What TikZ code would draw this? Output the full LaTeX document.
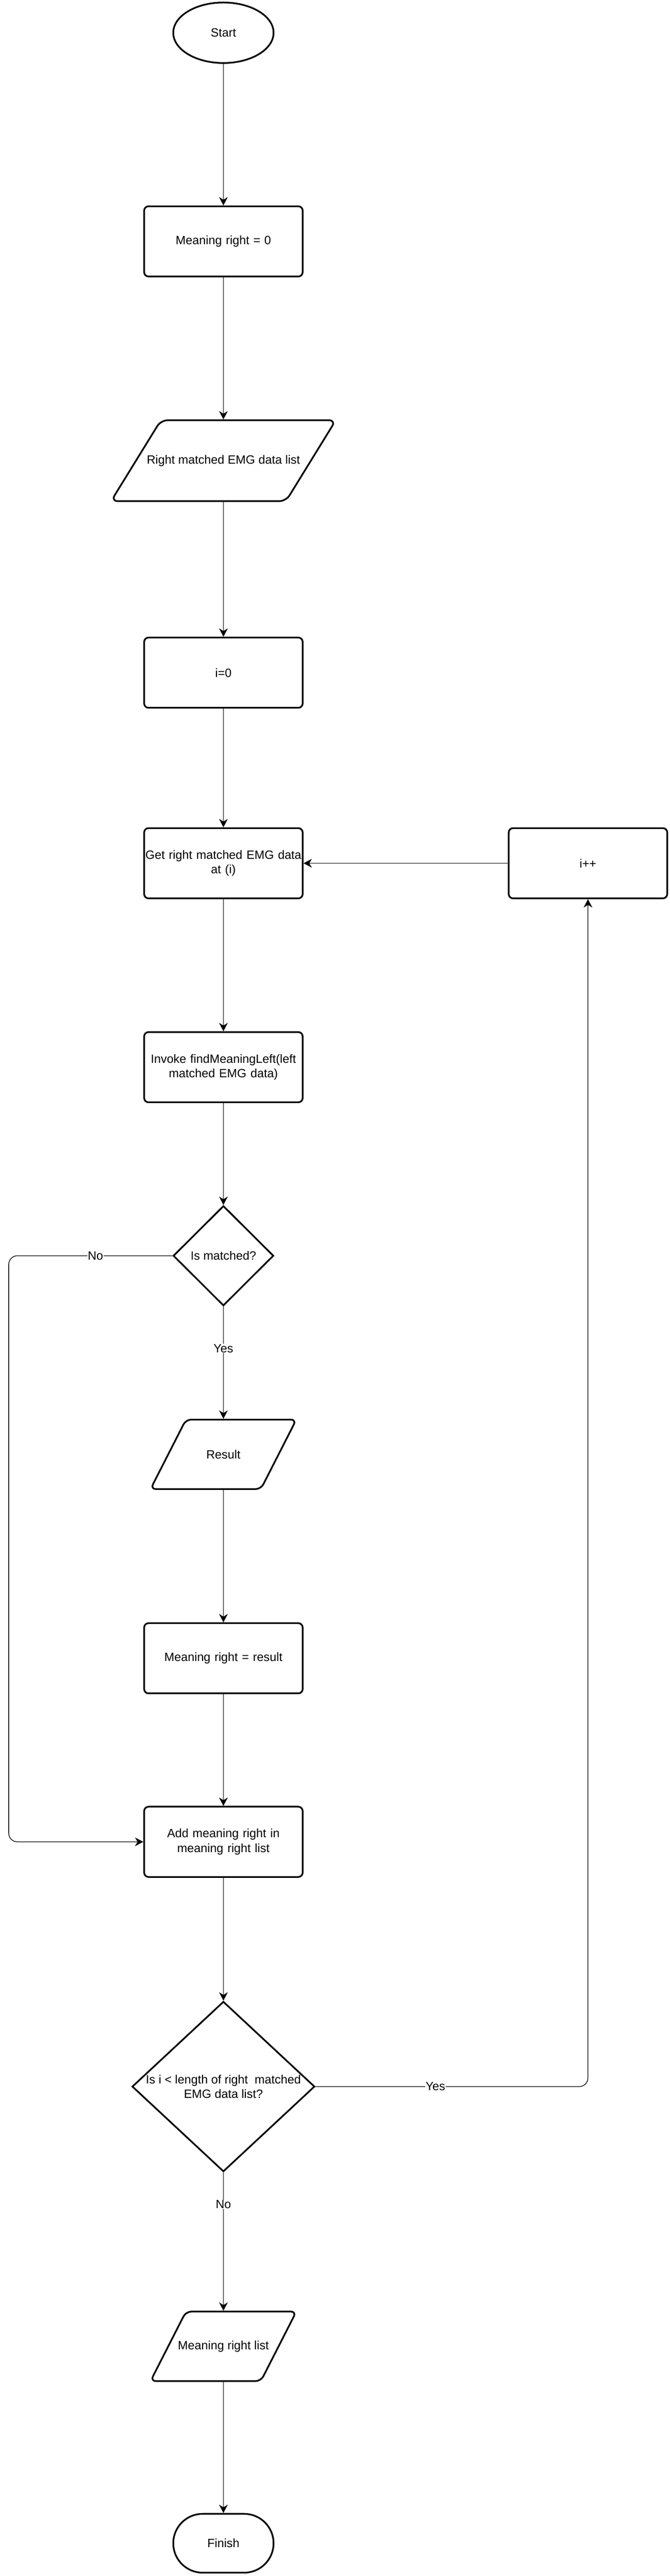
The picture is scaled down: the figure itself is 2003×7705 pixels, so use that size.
\documentclass[tikz,border=0pt]{standalone}
\usepackage{fontspec}
\setmainfont{Liberation Sans}
\usetikzlibrary{shapes.geometric,shapes.misc,arrows.meta}
\begin{document}
\begin{tikzpicture}[x=1pt,y=-1pt,
  txt/.style={font=\fontsize{36}{44}\selectfont, text=black},
  shp/.style={draw=black, line width=5pt},
  procbox/.style={shp, txt, rectangle, rounded corners=13pt, minimum width=474pt, minimum height=210pt, inner sep=0pt, align=center, text width=472pt},
  iobox/.style={txt, rectangle, inner sep=0pt, outer sep=0pt, align=center},
  termin/.style={shp, txt, ellipse, minimum width=300pt, minimum height=181pt, inner sep=0pt},
  decis/.style={shp, diamond, inner sep=0pt},
  conn/.style={line width=2pt, draw=black, -{Stealth[length=25pt,width=26pt,inset=8pt]}, rounded corners=26pt},
  lbl/.style={txt, fill=white, inner sep=1pt},
]
\useasboundingbox[fill=white] (0,0) rectangle (2003,7705);

\node[termin] (start) at (668,98) {Start};
\node[procbox] (b1) at (668,722) {Meaning right = 0};
\node[iobox, minimum width=672pt, minimum height=242pt] (p1) at (668,1378) {Right matched EMG data list};
\node[procbox] (i0) at (668,2012) {i=0};
\node[procbox] (get) at (668,2582) {Get right matched EMG data\\at (i)};
\node[procbox] (ipp) at (1758,2582) {i++};
\node[procbox] (inv) at (668,3192) {Invoke findMeaningLeft(left\\matched EMG data)};
\node[decis, minimum width=300pt, minimum height=299pt, label={[txt]center:Is matched?}] (d1) at (668,3756) {};
\node[iobox, minimum width=436pt, minimum height=208pt] (res) at (668,4350) {Result};
\node[procbox] (mrr) at (668,4960) {Meaning right = result};
\node[procbox] (add) at (668,5509) {Add meaning right in\\meaning right list};
\node[decis, minimum width=546pt, minimum height=509pt, label={[txt,align=center]center:Is i < length of right\ \ matched\\EMG data list?}] (d2) at (668,6241) {};
\node[iobox, minimum width=436pt, minimum height=208pt] (mrl) at (668,7018) {Meaning right list};
\node[shp, txt, rounded rectangle, minimum width=300pt, minimum height=176pt, inner sep=0pt] (fin) at (668,7607) {Finish};

% parallelogram outlines
\draw[shp, rounded corners=20pt] ([xshift=149pt]p1.north west) -- (p1.north east) -- ([xshift=-149pt]p1.south east) -- (p1.south west) -- cycle;
\draw[shp, rounded corners=16pt] ([xshift=106pt]res.north west) -- (res.north east) -- ([xshift=-106pt]res.south east) -- (res.south west) -- cycle;
\draw[shp, rounded corners=16pt] ([xshift=106pt]mrl.north west) -- (mrl.north east) -- ([xshift=-106pt]mrl.south east) -- (mrl.south west) -- cycle;

\coordinate (nl) at (26,3756);
\coordinate (nb) at (26,5509);
\coordinate (yc) at (1758,6241);

\draw[conn] (start) -- (b1);
\draw[conn, shorten >=2.5pt] (b1) -- (p1);
\draw[conn] (p1) -- (i0);
\draw[conn] (i0) -- (get);
\draw[conn] (get) -- (inv);
\draw[conn] (inv) -- (d1);
\draw[conn, shorten >=2.5pt] (d1) -- node[lbl, pos=0.37]{Yes} (res);
\draw[conn] (res) -- (mrr);
\draw[conn] (mrr) -- (add);
\draw[conn] (d1.west) -- node[lbl, pos=0.47]{No} (nl) -- (nb) -- (add.west);
\draw[conn] (add) -- (d2);
\draw[conn] (d2.east) -- node[lbl, pos=0.44]{Yes} (yc) -- (ipp.south);
\draw[conn] (ipp) -- (get);
\draw[conn, shorten >=2.5pt] (d2) -- node[lbl, pos=0.23]{No} (mrl);
\draw[conn] (mrl) -- (fin);
\end{tikzpicture}
\end{document}
